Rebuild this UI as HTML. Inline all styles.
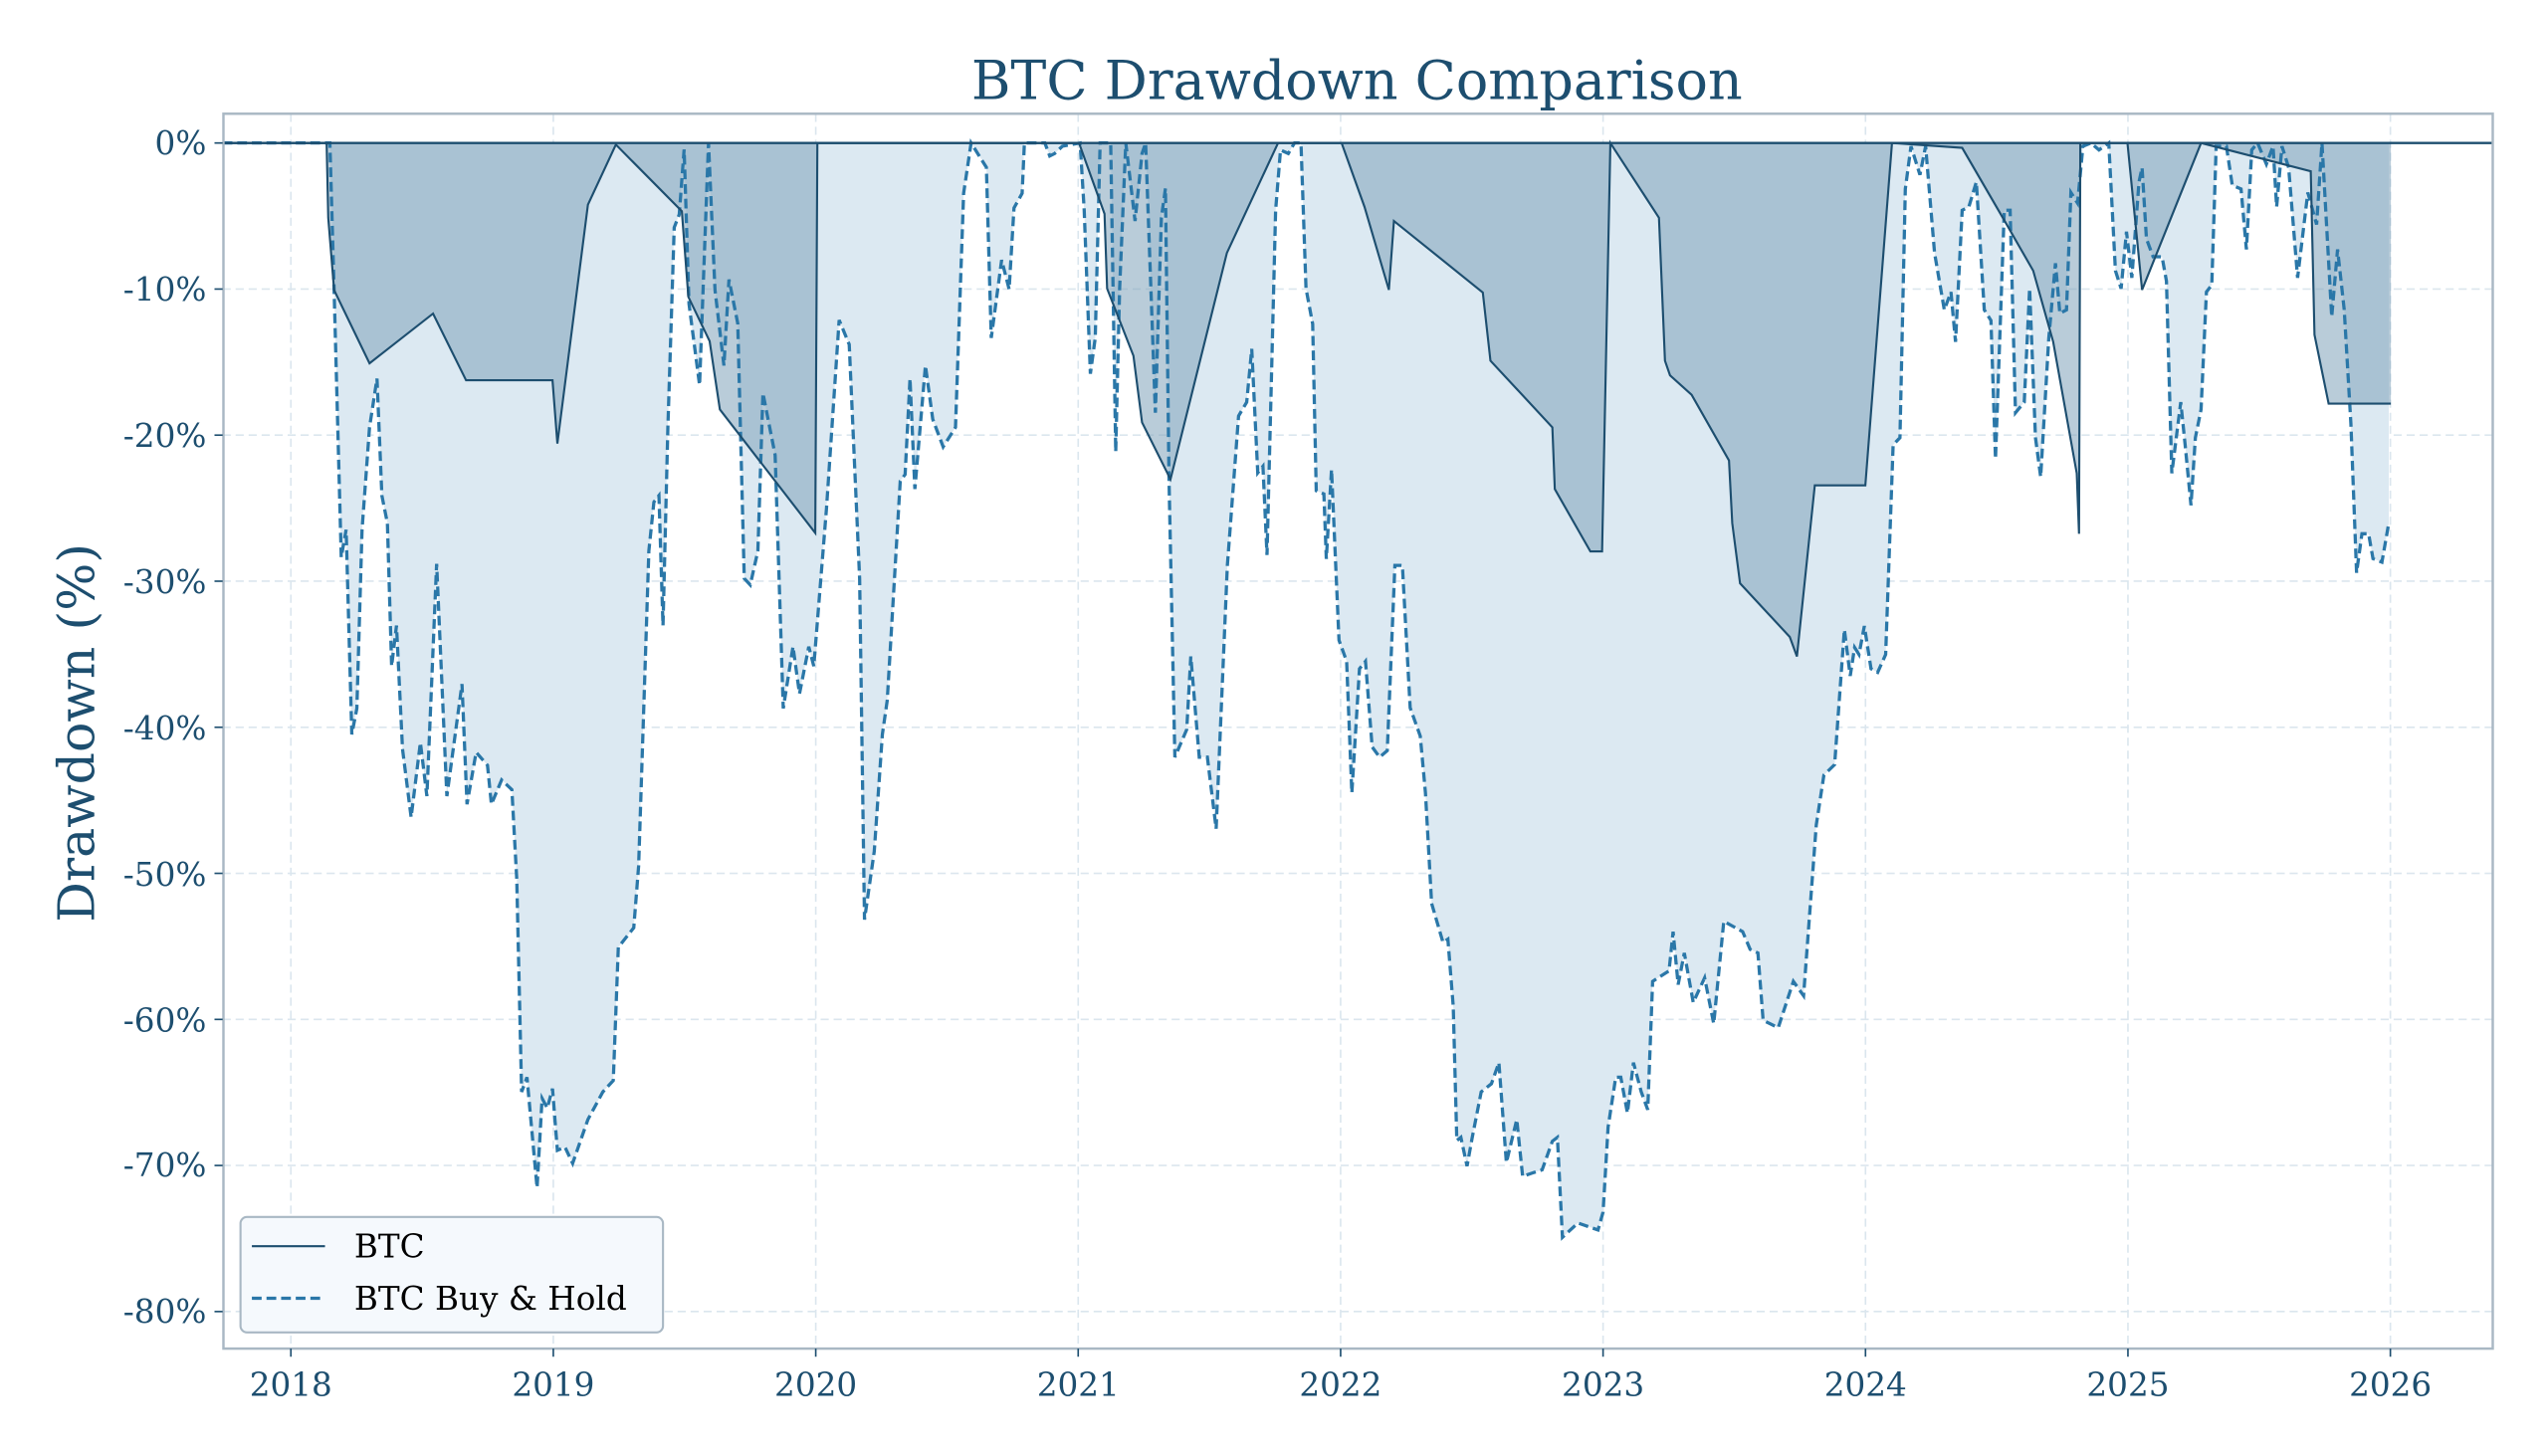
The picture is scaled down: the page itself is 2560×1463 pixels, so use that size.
<!DOCTYPE html>
<html><head><meta charset="utf-8"><style>html,body{margin:0;padding:0;background:#fff}svg{display:block}</style></head>
<body>
<svg width="2560" height="1463" viewBox="0 0 1568 896.1" preserveAspectRatio="none" xmlns="http://www.w3.org/2000/svg" font-family="'DejaVu Serif','Liberation Serif',serif">
<rect width="1568" height="896.1" fill="#fff"/>
<text x="835" y="61" font-size="33" fill="#1d4e6f" text-anchor="middle">BTC Drawdown Comparison</text>
<text transform="translate(58,451) rotate(-90)" font-size="31" fill="#1d4e6f" text-anchor="middle">Drawdown (%)</text>
<g stroke="#dbe6ee" stroke-width="1" stroke-dasharray="5,3">
<line x1="179" y1="70" x2="179" y2="830"/><line x1="340.5" y1="70" x2="340.5" y2="830"/><line x1="502" y1="70" x2="502" y2="830"/><line x1="663.5" y1="70" x2="663.5" y2="830"/><line x1="825" y1="70" x2="825" y2="830"/><line x1="986.5" y1="70" x2="986.5" y2="830"/><line x1="1148" y1="70" x2="1148" y2="830"/><line x1="1309.5" y1="70" x2="1309.5" y2="830"/><line x1="1471" y1="70" x2="1471" y2="830"/>
<line x1="137" y1="177.9" x2="1534" y2="177.9"/><line x1="137" y1="267.8" x2="1534" y2="267.8"/><line x1="137" y1="357.7" x2="1534" y2="357.7"/><line x1="137" y1="447.6" x2="1534" y2="447.6"/><line x1="137" y1="537.5" x2="1534" y2="537.5"/><line x1="137" y1="627.4" x2="1534" y2="627.4"/><line x1="137" y1="717.3" x2="1534" y2="717.3"/><line x1="137" y1="807.2" x2="1534" y2="807.2"/>
</g>
<polygon fill="#dce9f2" points="137,88 201,88 203,88 205.6,178.5 210,343 213,326 216.5,452 219.6,436 222.8,326 227.4,263 232,233 235,305 238.4,322 241,410 244,385 247.7,461 253,503 258.7,457 262.7,490 268.7,347 275,490 284.3,421 287.4,495 293,463 300,471 302.4,495 308.7,480 315,486 318,541 321,672 324.3,663 330.5,731 333.6,676 336.8,682 340,670 343,708 347.7,706 352.4,716 361.8,689 371,672 377.4,665 380.5,583 390,571 393,533 399.3,339 402.4,309 405.5,305 408,385 411,263 414.9,140 418,132 421,92 424,187 430.5,237 436,88 440,178.5 445.5,225 448.6,172 454,199 458,356 461.7,360 466.4,339 469.5,242 477,280 482,436 488,398 492,427 497.7,398 500.8,410 508.6,313 516.4,197 522.6,212 529,356 532,566 538,524 543,452 546,431 554,296 557,292 560,233 563,301 569.5,225 574,258 580.4,275 588,263 593,119 597.6,88 607,103 610,208 616.4,160 621,178 624,128 629,119 630.4,88 643,88 646,96 649,94.5 653.8,90 664.7,88 667.2,129.4 671,230 674,208 677,88 683.5,88 686.6,278 689,177.6 692.8,88 698.5,136 702.8,94.5 705,88 711,254 714.7,134 717.2,116 719.4,295.6 723,466 730.3,449 732.8,404 738,466 743,466 748.4,510 755.3,348 762.2,256 767.2,247.5 770.3,214.7 774,291 777.2,287 779.7,341.6 785,129.4 788,92.3 792.8,94.5 796.6,88 800.6,88 803.7,177.6 807.8,199.4 810,302 814.7,304 816.2,344 819.4,289 824,394 828.7,407 831.9,488 836.6,411.6 840.3,407 844.4,459.7 849,466 853.7,462 858.4,348 863,348 867.8,435.6 874,453 877.2,488 881,556 888,580 891,578 894.3,619.3 896.5,702 899,700 902.8,717.7 906,700 911.5,672 917.8,667 922.4,654 927,715.5 933.4,689 937,724 942.8,722 949,720 955.3,702.4 958.4,700 961.5,761.5 971,752.7 983.4,757 986.5,746 989.6,693.7 994.3,663 997.4,663 1001.5,685 1005.2,654 1010,672 1014,683 1017,604 1027.1,597.5 1029.6,573.4 1032.7,606 1036.5,586.5 1042,617 1049,601.8 1054.6,630 1060.8,567 1072.4,573.4 1077,584.3 1081.8,586.5 1085,628 1094.3,632.5 1103.6,604 1109.9,612.8 1113,571 1117.7,507.8 1122.4,477 1129,470.6 1135,387.5 1138.6,416 1141.3,398.5 1144,402.8 1147.3,385.3 1151.4,411.6 1155.5,413.8 1160.4,402.8 1165,273.8 1169.2,269.4 1172.5,116.3 1176,90 1181.5,107.6 1185,90 1190.5,155.7 1196.5,190.7 1200.6,179.7 1203.4,210.4 1207.5,129.4 1211.6,127.3 1216.2,112 1221.1,190.7 1225.2,197.2 1228,282.5 1233.4,129.4 1237,129.4 1240.3,254 1245.7,247.5 1249,177.6 1252.6,269.4 1255.8,293.5 1260.8,208 1264.9,162 1267.6,192.9 1271.7,190.7 1274.4,118.5 1278.5,125 1281.8,90 1286.7,88 1291.7,92.3 1297.7,88 1301.8,166.6 1305.3,177.6 1308.6,142.6 1311.9,171 1316.3,112 1318.2,103.2 1320.9,147 1325,158 1330.5,158 1333.2,173 1336.5,291.3 1342,247.5 1344.7,273.8 1348.3,311 1351,269.4 1354.5,252 1357.8,179.7 1361.1,175.4 1363.8,90 1370.1,90 1373.7,114 1379.1,116.3 1382.4,153.5 1385.7,92.3 1389.3,88 1394.7,101 1398.8,90 1401,127.3 1404.3,90 1408.4,103.2 1413.9,171 1420.2,118.5 1425.6,138.2 1428.9,88 1434.9,195 1438.5,153.5 1442.6,190.7 1446.7,260.7 1450.2,352.5 1453.5,328.5 1457.6,328.5 1460.3,343.8 1465.8,346 1470,322 1470,88"/>
<polygon fill="#7fa3ba" fill-opacity="0.55" points="137,88 201,88 202,134 205.6,178.5 227.4,223.6 266.5,193 286.8,234 340,234 343,273 361.8,126 379,89 419.6,130 423.6,182.7 436.7,210 443,252 501.7,328 503,88 664,88 679.7,131.6 681.3,177.6 697.5,219 702.8,260 720.3,295 755,155.7 786.5,88 825.6,88 839.7,127.3 854.7,178.4 857.8,136 912.5,180 917.2,222 955.3,263 956.8,301 978.7,339.4 985.9,339.4 991,88 1020.9,134 1024.6,222 1027.7,231 1041,243 1064,283.4 1066,322 1070.8,359 1101.4,392 1105.8,404 1116.8,298.7 1147.9,298.7 1164.3,88 1207.5,91 1234.8,138 1251.2,166.6 1263.5,210.4 1278,291.3 1279.4,328.5 1280.2,88 1309.2,88 1318.2,178.4 1354.5,88 1422,105.4 1424.3,206 1433,248.4 1471.3,248.4 1471.3,88"/>
<polyline fill="none" stroke="#2a77a8" stroke-width="2" stroke-dasharray="6,3" points="137,88 201,88 203,88 205.6,178.5 210,343 213,326 216.5,452 219.6,436 222.8,326 227.4,263 232,233 235,305 238.4,322 241,410 244,385 247.7,461 253,503 258.7,457 262.7,490 268.7,347 275,490 284.3,421 287.4,495 293,463 300,471 302.4,495 308.7,480 315,486 318,541 321,672 324.3,663 330.5,731 333.6,676 336.8,682 340,670 343,708 347.7,706 352.4,716 361.8,689 371,672 377.4,665 380.5,583 390,571 393,533 399.3,339 402.4,309 405.5,305 408,385 411,263 414.9,140 418,132 421,92 424,187 430.5,237 436,88 440,178.5 445.5,225 448.6,172 454,199 458,356 461.7,360 466.4,339 469.5,242 477,280 482,436 488,398 492,427 497.7,398 500.8,410 508.6,313 516.4,197 522.6,212 529,356 532,566 538,524 543,452 546,431 554,296 557,292 560,233 563,301 569.5,225 574,258 580.4,275 588,263 593,119 597.6,88 607,103 610,208 616.4,160 621,178 624,128 629,119 630.4,88 643,88 646,96 649,94.5 653.8,90 664.7,88 667.2,129.4 671,230 674,208 677,88 683.5,88 686.6,278 689,177.6 692.8,88 698.5,136 702.8,94.5 705,88 711,254 714.7,134 717.2,116 719.4,295.6 723,466 730.3,449 732.8,404 738,466 743,466 748.4,510 755.3,348 762.2,256 767.2,247.5 770.3,214.7 774,291 777.2,287 779.7,341.6 785,129.4 788,92.3 792.8,94.5 796.6,88 800.6,88 803.7,177.6 807.8,199.4 810,302 814.7,304 816.2,344 819.4,289 824,394 828.7,407 831.9,488 836.6,411.6 840.3,407 844.4,459.7 849,466 853.7,462 858.4,348 863,348 867.8,435.6 874,453 877.2,488 881,556 888,580 891,578 894.3,619.3 896.5,702 899,700 902.8,717.7 906,700 911.5,672 917.8,667 922.4,654 927,715.5 933.4,689 937,724 942.8,722 949,720 955.3,702.4 958.4,700 961.5,761.5 971,752.7 983.4,757 986.5,746 989.6,693.7 994.3,663 997.4,663 1001.5,685 1005.2,654 1010,672 1014,683 1017,604 1027.1,597.5 1029.6,573.4 1032.7,606 1036.5,586.5 1042,617 1049,601.8 1054.6,630 1060.8,567 1072.4,573.4 1077,584.3 1081.8,586.5 1085,628 1094.3,632.5 1103.6,604 1109.9,612.8 1113,571 1117.7,507.8 1122.4,477 1129,470.6 1135,387.5 1138.6,416 1141.3,398.5 1144,402.8 1147.3,385.3 1151.4,411.6 1155.5,413.8 1160.4,402.8 1165,273.8 1169.2,269.4 1172.5,116.3 1176,90 1181.5,107.6 1185,90 1190.5,155.7 1196.5,190.7 1200.6,179.7 1203.4,210.4 1207.5,129.4 1211.6,127.3 1216.2,112 1221.1,190.7 1225.2,197.2 1228,282.5 1233.4,129.4 1237,129.4 1240.3,254 1245.7,247.5 1249,177.6 1252.6,269.4 1255.8,293.5 1260.8,208 1264.9,162 1267.6,192.9 1271.7,190.7 1274.4,118.5 1278.5,125 1281.8,90 1286.7,88 1291.7,92.3 1297.7,88 1301.8,166.6 1305.3,177.6 1308.6,142.6 1311.9,171 1316.3,112 1318.2,103.2 1320.9,147 1325,158 1330.5,158 1333.2,173 1336.5,291.3 1342,247.5 1344.7,273.8 1348.3,311 1351,269.4 1354.5,252 1357.8,179.7 1361.1,175.4 1363.8,90 1370.1,90 1373.7,114 1379.1,116.3 1382.4,153.5 1385.7,92.3 1389.3,88 1394.7,101 1398.8,90 1401,127.3 1404.3,90 1408.4,103.2 1413.9,171 1420.2,118.5 1425.6,138.2 1428.9,88 1434.9,195 1438.5,153.5 1442.6,190.7 1446.7,260.7 1450.2,352.5 1453.5,328.5 1457.6,328.5 1460.3,343.8 1465.8,346 1470,322"/>
<polyline fill="none" stroke="#1d4e6f" stroke-width="1.3" points="137,88 201,88 202,134 205.6,178.5 227.4,223.6 266.5,193 286.8,234 340,234 343,273 361.8,126 379,89 419.6,130 423.6,182.7 436.7,210 443,252 501.7,328 503,88 664,88 679.7,131.6 681.3,177.6 697.5,219 702.8,260 720.3,295 755,155.7 786.5,88 825.6,88 839.7,127.3 854.7,178.4 857.8,136 912.5,180 917.2,222 955.3,263 956.8,301 978.7,339.4 985.9,339.4 991,88 1020.9,134 1024.6,222 1027.7,231 1041,243 1064,283.4 1066,322 1070.8,359 1101.4,392 1105.8,404 1116.8,298.7 1147.9,298.7 1164.3,88 1207.5,91 1234.8,138 1251.2,166.6 1263.5,210.4 1278,291.3 1279.4,328.5 1280.2,88 1309.2,88 1318.2,178.4 1354.5,88 1422,105.4 1424.3,206 1433,248.4 1471.3,248.4"/>
<line x1="137" y1="88" x2="1534" y2="88" stroke="#1d4e6f" stroke-width="1.5"/>
<rect x="137.5" y="70" width="1396.5" height="760" fill="none" stroke="#a9b8c4" stroke-width="1.5"/>
<g stroke="#1d4e6f" stroke-width="1">
<line x1="132" y1="88" x2="137" y2="88"/><line x1="132" y1="177.9" x2="137" y2="177.9"/><line x1="132" y1="267.8" x2="137" y2="267.8"/><line x1="132" y1="357.7" x2="137" y2="357.7"/><line x1="132" y1="447.6" x2="137" y2="447.6"/><line x1="132" y1="537.5" x2="137" y2="537.5"/><line x1="132" y1="627.4" x2="137" y2="627.4"/><line x1="132" y1="717.3" x2="137" y2="717.3"/><line x1="132" y1="807.2" x2="137" y2="807.2"/>
<line x1="179" y1="830" x2="179" y2="835"/><line x1="340.5" y1="830" x2="340.5" y2="835"/><line x1="502" y1="830" x2="502" y2="835"/><line x1="663.5" y1="830" x2="663.5" y2="835"/><line x1="825" y1="830" x2="825" y2="835"/><line x1="986.5" y1="830" x2="986.5" y2="835"/><line x1="1148" y1="830" x2="1148" y2="835"/><line x1="1309.5" y1="830" x2="1309.5" y2="835"/><line x1="1471" y1="830" x2="1471" y2="835"/>
</g>
<g font-size="20" fill="#1d4e6f" text-anchor="end">
<text x="127" y="95">0%</text><text x="127" y="185">-10%</text><text x="127" y="275">-20%</text><text x="127" y="365">-30%</text><text x="127" y="455">-40%</text><text x="127" y="545">-50%</text><text x="127" y="635">-60%</text><text x="127" y="724">-70%</text><text x="127" y="814">-80%</text>
</g>
<g font-size="20" fill="#1d4e6f" text-anchor="middle">
<text x="179" y="859">2018</text><text x="340.5" y="859">2019</text><text x="502" y="859">2020</text><text x="663.5" y="859">2021</text><text x="825" y="859">2022</text><text x="986.5" y="859">2023</text><text x="1148" y="859">2024</text><text x="1309.5" y="859">2025</text><text x="1471" y="859">2026</text>
</g>
<rect x="148" y="749" width="260" height="71" rx="4" fill="#f5f9fd" stroke="#a9b8c4" stroke-width="1.3"/>
<line x1="155" y1="767" x2="200" y2="767" stroke="#1d4e6f" stroke-width="1.3"/>
<line x1="155" y1="799" x2="200" y2="799" stroke="#2a77a8" stroke-width="2" stroke-dasharray="6,3"/>
<text x="218" y="774" font-size="20" fill="#000">BTC</text>
<text x="218" y="806" font-size="20" fill="#000">BTC Buy &amp; Hold</text>
</svg>
</body></html>
